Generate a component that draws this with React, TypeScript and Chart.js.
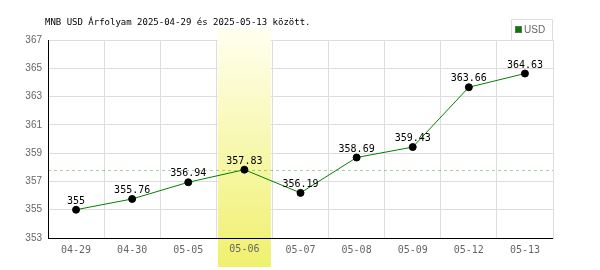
import React, { useEffect, useRef } from "react";
import { Chart, registerables } from "chart.js";

Chart.register(...registerables);

const categories = ["04-29", "04-30", "05-05", "05-06", "05-07", "05-08", "05-09", "05-12", "05-13"];
const usdValues = [355, 355.76, 356.94, 357.83, 356.19, 358.69, 359.43, 363.66, 364.63];
const valueLabels = ["355", "355.76", "356.94", "357.83", "356.19", "358.69", "359.43", "363.66", "364.63"];
const highlightIndex = 3;
const referenceValue = 357.83;
const titleText = "MNB USD Árfolyam 2025-04-29 és 2025-05-13 között.";
const seriesName = "USD";

const MONO = "'DejaVu Sans Mono', monospace";
const SANS = "'Liberation Sans', Arial, sans-serif";

const decorPlugin = {
  id: "decor",
  beforeDatasetsDraw(chart: any) {
    const { ctx, chartArea, scales } = chart;
    const x = scales.x;
    const y = scales.y;
    // highlight band
    const cx = x.getPixelForValue(highlightIndex);
    const w = 53;
    const top = 28;
    const bottom = 267;
    const g = ctx.createLinearGradient(0, top, 0, bottom);
    g.addColorStop(0, "rgba(255,255,240,1)");
    g.addColorStop(1, "rgba(240,240,110,1)");
    ctx.save();
    ctx.fillStyle = g;
    ctx.fillRect(cx - w / 2, top, w, bottom - top);
    ctx.restore();
    // redraw x tick label for highlighted column above band
    ctx.save();
    ctx.font = `10px ${MONO}`;
    ctx.fillStyle = "#666";
    ctx.textAlign = "center";
    ctx.textBaseline = "middle";
    ctx.fillText(categories[highlightIndex], cx, chartArea.bottom + 11);
    ctx.restore();
    // reference dashed line
    const ry = Math.round(y.getPixelForValue(referenceValue)) + 0.5;
    ctx.save();
    ctx.strokeStyle = "rgba(0,128,0,0.35)";
    ctx.lineWidth = 1;
    ctx.setLineDash([3, 3]);
    ctx.beginPath();
    ctx.moveTo(chartArea.left, ry);
    ctx.lineTo(chartArea.right, ry);
    ctx.stroke();
    ctx.restore();
  },
  afterDatasetsDraw(chart: any) {
    const { ctx, scales } = chart;
    const meta = chart.getDatasetMeta(0);
    ctx.save();
    ctx.font = `10px ${MONO}`;
    ctx.fillStyle = "#000";
    ctx.textAlign = "center";
    ctx.textBaseline = "alphabetic";
    meta.data.forEach((pt: any, i: number) => {
      ctx.fillText(valueLabels[i], pt.x, pt.y - 6);
    });
    ctx.restore();
  },
  afterDraw(chart: any) {
    const { ctx, chartArea } = chart;
    ctx.save();
    // title
    ctx.font = `9px ${MONO}`;
    ctx.fillStyle = "#000";
    ctx.textAlign = "left";
    ctx.textBaseline = "middle";
    ctx.fillText(titleText, 45, 23);
    // legend box
    const lx = 511.5, ly = 19.5, lw = 41, lh = 21;
    ctx.strokeStyle = "#ddd";
    ctx.lineWidth = 1;
    ctx.beginPath();
    ctx.moveTo(lx, ly + lh);
    ctx.lineTo(lx, ly);
    ctx.lineTo(lx + lw, ly);
    ctx.lineTo(lx + lw, ly + lh);
    ctx.stroke();
    ctx.fillStyle = "#666";
    ctx.fillRect(515, 26, 7, 7);
    ctx.fillStyle = "#008000";
    ctx.fillRect(516, 27, 5, 5);
    ctx.font = `10px ${SANS}`;
    ctx.fillStyle = "#666";
    ctx.textBaseline = "middle";
    ctx.fillText(seriesName, 524, 30);
    // axes lines
    ctx.strokeStyle = "#000";
    ctx.beginPath();
    ctx.moveTo(chartArea.left + 0.5, chartArea.top);
    ctx.lineTo(chartArea.left + 0.5, chartArea.bottom + 0.5);
    ctx.lineTo(chartArea.right, chartArea.bottom + 0.5);
    ctx.stroke();
    ctx.restore();
  },
};

export default function App() {
  const ref = useRef<HTMLCanvasElement | null>(null);
  useEffect(() => {
    if (!ref.current) return;
    const chart = new Chart(ref.current, {
      type: "line",
      data: {
        labels: categories,
        datasets: [
          {
            label: seriesName,
            data: usdValues,
            borderColor: "#008000",
            borderWidth: 1,
            pointBackgroundColor: "#000",
            pointBorderColor: "#000",
            pointRadius: 3.5,
            tension: 0,
          },
        ],
      },
      options: {
        animation: false,
        responsive: false,
        maintainAspectRatio: false,
        layout: { padding: { top: 40, right: 47, bottom: 0, left: 0 } },
        plugins: { legend: { display: false }, tooltip: { enabled: false }, title: { display: false } },
        scales: {
          x: {
            offset: true,
            grid: { color: "#ddd", offset: true, drawTicks: false },
            border: { display: true, color: "#ddd" },
            ticks: {
              font: { family: MONO, size: 10 },
              color: (c: any) => (c.index === highlightIndex ? "rgba(0,0,0,0)" : "#666"),
              padding: 6,
              maxRotation: 0,
            },
            afterFit: (s: any) => { s.height = 32; },
          },
          y: {
            min: 353,
            max: 367,
            grid: { color: "#ddd", drawTicks: false },
            border: { display: true, color: "#000" },
            ticks: {
              stepSize: 2,
              font: { family: SANS, size: 10 },
              color: "#666",
              padding: 6,
            },
            afterFit: (s: any) => { s.width = 48; },
          },
        },
      },
      plugins: [decorPlugin],
    });
    return () => chart.destroy();
  }, []);
  return (
    <div style={{ position: "fixed", left: 0, top: 0, width: 600, height: 270, background: "#fff" }}>
      <canvas ref={ref} width={600} height={270} style={{ width: 600, height: 270 }} />
    </div>
  );
}
